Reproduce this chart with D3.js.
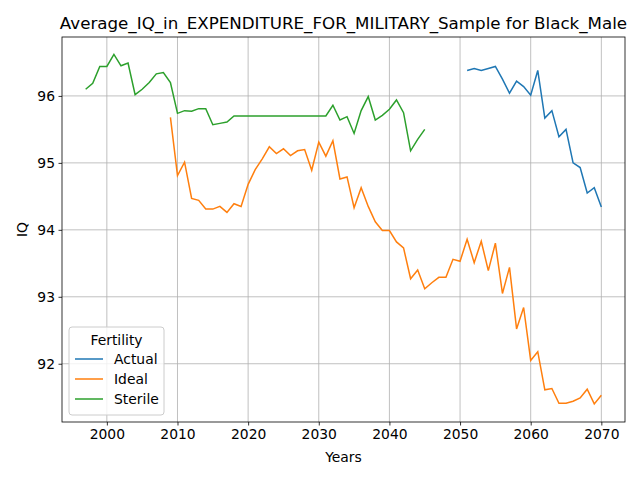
<!DOCTYPE html><html><head><script src="https://cdn.jsdelivr.net/npm/d3@7"></script>
<style>body{margin:0;background:#fff}text{font-family:"DejaVu Sans",sans-serif}</style></head><body><svg id="c" width="640" height="480"></svg><script>
const sterileYears=d3.range(1997,2046);
const sterileVals=[96.1,96.19,96.44,96.44,96.62,96.45,96.49,96.02,96.1,96.2,96.33,96.35,96.2,95.74,95.78,95.77,95.81,95.81,95.57,95.59,95.61,95.7,95.7,95.7,95.7,95.7,95.7,95.7,95.7,95.7,95.7,95.7,95.7,95.7,95.7,95.86,95.64,95.69,95.44,95.78,95.99,95.64,95.71,95.8,95.94,95.75,95.18,95.35,95.5];
const idealYears=d3.range(2009,2071);
const idealVals=[95.68,94.81,95.01,94.47,94.44,94.31,94.31,94.35,94.26,94.39,94.35,94.68,94.9,95.06,95.24,95.14,95.21,95.11,95.18,95.2,94.89,95.31,95.1,95.33,94.76,94.79,94.33,94.63,94.35,94.12,93.99,93.99,93.82,93.73,93.27,93.4,93.12,93.21,93.29,93.29,93.56,93.53,93.86,93.51,93.83,93.39,93.8,93.05,93.44,92.52,92.84,92.05,92.18,91.61,91.63,91.41,91.41,91.44,91.49,91.62,91.4,91.53];
const actualYears=d3.range(2051,2071);
const actualVals=[96.38,96.41,96.38,96.41,96.44,96.25,96.04,96.22,96.14,96.01,96.38,95.67,95.78,95.39,95.5,95.0,94.93,94.55,94.63,94.34];
const xTicks=[2000,2010,2020,2030,2040,2050,2060,2070];
const yTicks=[92,93,94,95,96];
const series=[{name:"Actual",c:"#1f77b4",x:actualYears,y:actualVals},{name:"Ideal",c:"#ff7f0e",x:idealYears,y:idealVals},{name:"Sterile",c:"#2ca02c",x:sterileYears,y:sterileVals}];
const L=62,R=625,T=37,B=422;
const svg=d3.select("#c");
const x=d3.scaleLinear().domain([1993.65,2073.35]).range([L,R]);
const y=d3.scaleLinear().domain([91.13,96.88]).range([B,T]);
const g=svg.append("g");
xTicks.forEach(t=>g.append("line").attr("x1",x(t)).attr("x2",x(t)).attr("y1",T).attr("y2",B).attr("stroke","#b0b0b0").attr("stroke-width",0.8));
yTicks.forEach(t=>g.append("line").attr("x1",L).attr("x2",R).attr("y1",y(t)).attr("y2",y(t)).attr("stroke","#b0b0b0").attr("stroke-width",0.8));
const line=d3.line().x(d=>x(d[0])).y(d=>y(d[1]));
series.forEach(s=>svg.append("path").attr("d",line(s.x.map((v,i)=>[v,s.y[i]]))).attr("fill","none").attr("stroke",s.c).attr("stroke-width",1.5));
const xa=svg.append("g").attr("transform",`translate(0,${B})`).call(d3.axisBottom(x).tickValues(xTicks).tickFormat(d3.format("d")).tickSizeOuter(0).tickSize(3.5).tickPadding(3.5));
const ya=svg.append("g").attr("transform",`translate(${L},0)`).call(d3.axisLeft(y).tickValues(yTicks).tickFormat(d3.format("d")).tickSizeOuter(0).tickSize(3.5).tickPadding(3.5));
[xa,ya].forEach(a=>{a.selectAll("text").attr("font-size",10*1.389).attr("font-family","DejaVu Sans").attr("fill","#000");a.select(".domain").remove();a.selectAll("line").attr("stroke","#000").attr("stroke-width",0.8);});
svg.append("rect").attr("x",L).attr("y",T).attr("width",R-L).attr("height",B-T).attr("fill","none").attr("stroke","#000").attr("stroke-width",0.8);
svg.append("text").attr("x",(L+R)/2).attr("y",29).attr("text-anchor","middle").attr("font-size",16.7).text("Average_IQ_in_EXPENDITURE_FOR_MILITARY_Sample for Black_Male");
svg.append("text").attr("x",(L+R)/2).attr("y",462).attr("text-anchor","middle").attr("font-size",13.9).text("Years");
svg.append("text").attr("transform",`translate(27,${(T+B)/2}) rotate(-90)`).attr("text-anchor","middle").attr("font-size",13.9).text("IQ");
const lg=svg.append("g").attr("transform","translate(69,327)");
lg.append("rect").attr("width",95).attr("height",88).attr("rx",3).attr("fill","#fff").attr("fill-opacity",0.8).attr("stroke","#ccc");
lg.append("text").attr("x",47.5).attr("y",18).attr("text-anchor","middle").attr("font-size",13.9).text("Fertility");
series.forEach((s,i)=>{const yy=32+i*20;lg.append("line").attr("x1",6).attr("x2",34).attr("y1",yy).attr("y2",yy).attr("stroke",s.c).attr("stroke-width",1.5);lg.append("text").attr("x",45).attr("y",yy+5).attr("font-size",13.9).text(s.name);});
</script></body></html>
